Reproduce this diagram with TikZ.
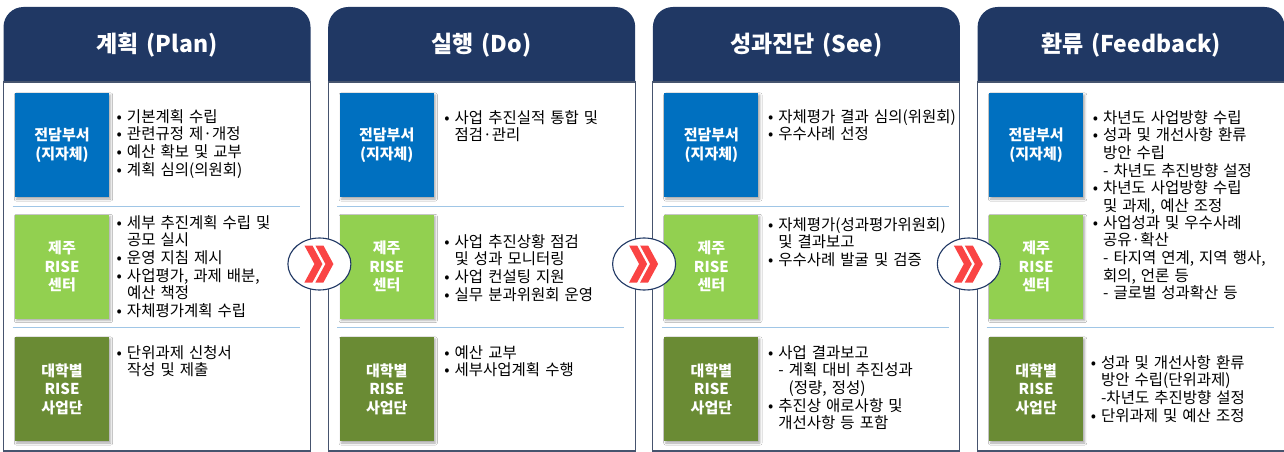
\documentclass[tikz,border=0pt]{standalone}
\usepackage{fontspec}
\setmainfont[WordSpace=1.45]{Noto Sans CJK KR}
\usetikzlibrary{shapes.geometric,shadows.blur}
\definecolor{headnavy}{RGB}{32,56,100}
\definecolor{panelline}{RGB}{70,84,110}
\definecolor{sepblue}{RGB}{160,198,230}
\definecolor{deptblue}{RGB}{0,112,192}
\definecolor{risegreen}{RGB}{146,208,80}
\definecolor{univgreen}{RGB}{106,139,52}
\definecolor{chevred}{RGB}{250,68,68}
\newcommand{\hang}{\phantom{•\ }}

\begin{document}
\begin{tikzpicture}[x=1pt, y=-1pt,
    head/.style={fill=headnavy, rounded corners=20pt},
    body/.style={draw=panelline, line width=1.1pt, fill=white},
    title/.style={text=white, inner sep=0pt, font=\fontsize{23}{26}\selectfont\bfseries},
    role/.style={minimum width=94pt, minimum height=104pt, inner sep=0pt, text=white, align=center,
      font=\fontsize{15}{18.5}\selectfont\bfseries,
      blur shadow={shadow xshift=1.5pt, shadow yshift=-2pt, shadow blur steps=4, shadow opacity=35}},
    dept/.style={role, fill=deptblue},
    rise/.style={role, fill=risegreen},
    univ/.style={role, fill=univgreen},
    sep/.style={draw=sepblue, line width=0.8pt},
    items/.style={anchor=north west, inner sep=0pt, align=left, font=\fontsize{15.5}{17.7}\selectfont},
    turn/.style={ellipse, draw=headnavy, line width=1.1pt, fill=white, minimum width=63pt, minimum height=52pt, inner sep=0pt},
    chev/.style={fill=chevred}]
  \useasboundingbox (0,0) rectangle (1284,452);
  % Panels: navy header with rounded top, white body below
  \fill[head] (3.5,7) rectangle (310.5,110);
  \draw[body] (3.5,82) rectangle (310.5,451);
  \fill[head] (328.2,7) rectangle (635.2,110);
  \draw[body] (328.2,82) rectangle (635.2,451);
  \fill[head] (652.9,7) rectangle (959.9,110);
  \draw[body] (652.9,82) rectangle (959.9,451);
  \fill[head] (977.6,7) rectangle (1284.6,110);
  \draw[body] (977.6,82) rectangle (1284.6,451);
  % Header titles
  \node[title] (plan) at (157,45) {계획 (Plan)};
  \node[title] (do)   at (481.7,45) {실행 (Do)};
  \node[title] (see)  at (806.4,45) {성과진단 (See)};
  \node[title] (feed) at (1131.1,45) {환류 (Feedback)};
  % Separators between rows
  \draw[sep] (12.5,206) -- (299.5,206) (12.5,327) -- (299.5,327);
  \draw[sep] (337.2,206) -- (624.2,206) (337.2,327) -- (624.2,327);
  \draw[sep] (661.9,206) -- (948.9,206) (661.9,327) -- (948.9,327);
  \draw[sep] (986.6,327) -- (1273.6,327);
  % Row labels, column 1 to 4
  \node[dept] (dept1) at (62,145) {전담부서\\(지자체)};
  \node[rise] (rise1) at (62,266.5) {제주\\RISE\\센터};
  \node[univ] (univ1) at (62,389) {대학별\\RISE\\사업단};
  \node[dept] (dept2) at (386.7,145) {전담부서\\(지자체)};
  \node[rise] (rise2) at (386.7,266.5) {제주\\RISE\\센터};
  \node[univ] (univ2) at (386.7,389) {대학별\\RISE\\사업단};
  \node[dept] (dept3) at (711.4,145) {전담부서\\(지자체)};
  \node[rise] (rise3) at (711.4,266.5) {제주\\RISE\\센터};
  \node[univ] (univ3) at (711.4,389) {대학별\\RISE\\사업단};
  \node[dept] (dept4) at (1036.1,145) {전담부서\\(지자체)};
  \node[rise] (rise4) at (1036.1,266.5) {제주\\RISE\\센터};
  \node[univ] (univ4) at (1036.1,389) {대학별\\RISE\\사업단};
  % Plan items
  \node[items] (plan1) at (116.5,109) {• 기본계획 수립\\• 관련규정 제·개정\\• 예산 확보 및 교부\\• 계획 심의(의원회)};
  \node[items] (plan2) at (116.5,215) {• 세부 추진계획 수립 및\\\hang 공모 실시\\• 운영 지침 제시\\• 사업평가, 과제 배분,\\\hang 예산 책정\\• 자체평가계획 수립};
  \node[items] (plan3) at (116.5,345) {• 단위과제 신청서\\\hang 작성 및 제출};
  % Do items
  \node[items] (do1) at (444.2,110) {• 사업 추진실적 통합 및\\\hang 점검·관리};
  \node[items] (do2) at (444.2,234) {• 사업 추진상황 점검\\\hang 및 성과 모니터링\\• 사업 컨설팅 지원\\• 실무 분과위원회 운영};
  \node[items] (do3) at (444.2,345) {• 예산 교부\\• 세부사업계획 수행};
  % See items
  \node[items] (see1) at (767.9,109) {• 자체평가 결과 심의(위원회)\\• 우수사례 선정};
  \node[items] (see2) at (767.9,217) {• 자체평가(성과평가위원회)\\\hang 및 결과보고\\• 우수사례 발굴 및 검증};
  \node[items] (see3) at (767.9,345) {• 사업 결과보고\\\hang - 계획 대비 추진성과\\\hang\hang (정량, 정성)\\• 추진상 애로사항 및\\\hang 개선사항 등 포함};
  % Feedback items
  \node[items] (feed1) at (1092.6,110) {• 차년도 사업방향 수립\\• 성과 및 개선사항 환류\\\hang 방안 수립\\\hang - 차년도 추진방향 설정\\• 차년도 사업방향 수립\\\hang 및 과제, 예산 조정};
  \node[items] (feed2) at (1092.6,215) {• 사업성과 및 우수사례\\\hang 공유·확산\\\hang - 타지역 연계, 지역 행사,\\\hang 회의, 언론 등\\\hang - 글로벌 성과확산 등};
  \node[items] (feed3) at (1090.6,355) {• 성과 및 개선사항 환류\\\hang 방안 수립(단위과제)\\\hang -차년도 추진방향 설정\\• 단위과제 및 예산 조정};
  % Step markers between phases
  \node[turn] (go1) at (319.4,264) {};
  \node[turn] (go2) at (644.1,264) {};
  \node[turn] (go3) at (968.8,264) {};
  \fill[chev, shift={(go1)}] (-15,-18.5) -- (-7,-18.5) -- (3,0) -- (-7,18.5) -- (-15,18.5) -- (-5,0) -- cycle
    (-4,-18.5) -- (4,-18.5) -- (14,0) -- (4,18.5) -- (-4,18.5) -- (6,0) -- cycle;
  \fill[chev, shift={(go2)}] (-15,-18.5) -- (-7,-18.5) -- (3,0) -- (-7,18.5) -- (-15,18.5) -- (-5,0) -- cycle
    (-4,-18.5) -- (4,-18.5) -- (14,0) -- (4,18.5) -- (-4,18.5) -- (6,0) -- cycle;
  \fill[chev, shift={(go3)}] (-15,-18.5) -- (-7,-18.5) -- (3,0) -- (-7,18.5) -- (-15,18.5) -- (-5,0) -- cycle
    (-4,-18.5) -- (4,-18.5) -- (14,0) -- (4,18.5) -- (-4,18.5) -- (6,0) -- cycle;
\end{tikzpicture}
\end{document}
